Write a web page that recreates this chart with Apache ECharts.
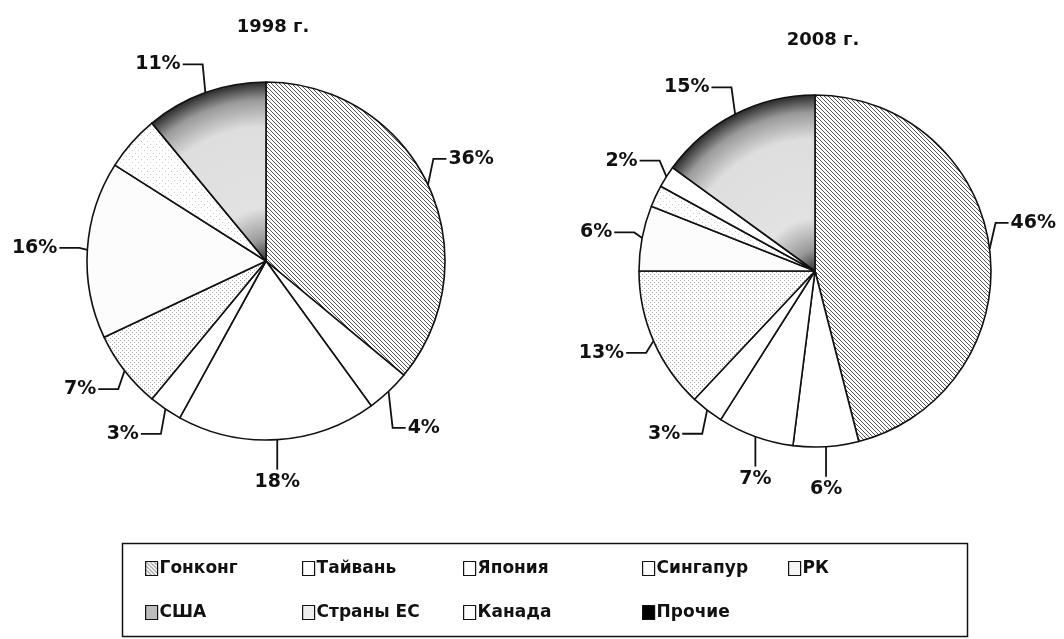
<!DOCTYPE html>
<html>
<head>
<meta charset="utf-8">
<script src="https://cdn.jsdelivr.net/npm/echarts@6/dist/echarts.min.js"></script>
<style>
html,body{margin:0;padding:0;background:#fff;}
#chart{width:1064px;height:639px;}
</style>
</head>
<body>
<div id="chart"></div>
<script>
// ---- data ----
var categories = ['Гонконг', 'Тайвань', 'Япония', 'Сингапур', 'РК', 'США', 'Страны ЕС', 'Канада', 'Прочие'];
var values1998 = [36, 4, 18, 3, 7, 16, 5, 0, 11];
var values2008 = [46, 6, 7, 3, 13, 6, 2, 2, 15];
var labeled1998 = [true, true, true, true, true, true, false, false, true];
var labeled2008 = [true, true, true, true, true, true, false, true, true];
var titles = ['1998 г.', '2008 г.'];

// ---- layout (not data) ----
var pieCenters = [[266, 261], [815, 271]];
var pieRadii = [179, 176];

// ---- patterns ----
function hatch() {
  var c = document.createElement('canvas'); c.width = 4; c.height = 4;
  var g = c.getContext('2d');
  g.fillStyle = '#fff'; g.fillRect(0, 0, 4, 4);
  g.strokeStyle = '#444'; g.lineWidth = 0.9;
  g.beginPath(); g.moveTo(-1, -1); g.lineTo(5, 5); g.stroke();
  g.beginPath(); g.moveTo(-1, 3); g.lineTo(1, 5); g.stroke();
  g.beginPath(); g.moveTo(3, -1); g.lineTo(5, 1); g.stroke();
  return { image: c, repeat: 'repeat' };
}
function dots(step, color) {
  var c = document.createElement('canvas'); c.width = step; c.height = step;
  var g = c.getContext('2d');
  g.fillStyle = '#fff'; g.fillRect(0, 0, step, step);
  g.fillStyle = color;
  g.fillRect(0, 0, 1, 1);
  g.fillRect(Math.floor(step / 2), Math.floor(step / 2), 1, 1);
  return { image: c, repeat: 'repeat' };
}
function othersFill(k) {
  return {
    type: 'radial', x: pieCenters[k][0], y: pieCenters[k][1], r: pieRadii[k], global: true,
    colorStops: [
      { offset: 0, color: '#333' },
      { offset: 0.12, color: '#999' },
      { offset: 0.3, color: '#e2e2e2' },
      { offset: 0.75, color: '#dedede' },
      { offset: 0.9, color: '#9a9a9a' },
      { offset: 1, color: '#2a2a2a' }
    ]
  };
}
var hatchFill = hatch(), rkFill = dots(4, '#aaa'), euFill = dots(6, '#ccc');
function fillsFor(k) {
  return [hatchFill, '#ffffff', '#ffffff', '#ffffff', rkFill, '#fcfcfc', euFill, '#ffffff', othersFill(k)];
}
var legendIconColors = [null, '#fff', '#fff', '#fff', '#f4f4f4', '#bdbdbd', '#eee', '#fff', '#000'];

function buildData(vals, labeled, k) {
  var fills = fillsFor(k);
  return categories.map(function (n, i) {
    return {
      name: n, value: vals[i],
      itemStyle: { color: fills[i] },
      label: { show: labeled[i] && vals[i] > 0 },
      labelLine: { show: labeled[i] && vals[i] > 0, lineStyle: { color: '#111', width: 1.8 } }
    };
  });
}

var font = 'DejaVu Sans, Liberation Sans, Arial, sans-serif';

function layoutLabel(p) {
  var pts = p.labelLinePoints;
  if (!pts) return {};
  var c = pieCenters[p.seriesIndex];
  var e = pts[0];
  var dx = e[0] - c[0], dy = e[1] - c[1];
  var r = Math.sqrt(dx * dx + dy * dy);
  var sx = dx / r, sy = dy / r;
  if (sy > 0.9) {
    var q = [e[0], e[1] + 30];
    return { x: q[0], y: q[1] + 3, align: 'center', verticalAlign: 'top', labelLinePoints: [e, q, q] };
  }
  var p1, h;
  if (sx >= 0) {
    var v = Math.max(26, Math.abs(sy) * 50) * (sy >= 0 ? 1 : -1);
    p1 = [e[0] + sx * 6, e[1] + v];
    h = 13;
  } else {
    p1 = [e[0] + sx * 8, e[1] + sy * 30];
    h = 20;
  }
  var dir = sx >= 0 ? 1 : -1;
  var p2 = [p1[0] + dir * h, p1[1]];
  return {
    x: p2[0] + dir * 2, y: p2[1], align: dir > 0 ? 'left' : 'right', verticalAlign: 'middle',
    labelLinePoints: [e, p1, p2]
  };
}

var pieCommon = {
  type: 'pie',
  startAngle: 90,
  clockwise: true,
  avoidLabelOverlap: false,
  itemStyle: { borderColor: '#111', borderWidth: 1.6 },
  emphasis: { disabled: true },
  label: {
    position: 'outside',
    formatter: '{c}%', color: '#111', fontFamily: font, fontWeight: 'bold', fontSize: 19,
    overflow: 'none'
  },
  labelLine: { length: 14, length2: 14, lineStyle: { color: '#111', width: 1.8 } },
  labelLayout: layoutLabel
};

// legend columns
var legendCols = [[0, 5], [1, 6], [2, 7], [3, 8], [4]];
var legendX = [140, 297, 458, 637, 783];
var legends = legendCols.map(function (col, k) {
  return {
    orient: 'vertical', left: legendX[k], top: 555,
    itemWidth: 12, itemHeight: 14, itemGap: 27,
    selectedMode: false,
    icon: 'rect',
    textStyle: { fontFamily: font, fontWeight: 'bold', fontSize: 17, color: '#111', padding: [0, 0, 0, -3] },
    itemStyle: { borderColor: '#111', borderWidth: 1.2 },
    data: col.map(function (i) {
      var d = { name: categories[i] };
      if (legendIconColors[i]) d.itemStyle = { color: legendIconColors[i] };
      return d;
    })
  };
});

var chart = echarts.init(document.getElementById('chart'), null, { renderer: 'canvas' });
chart.setOption({
  backgroundColor: '#fff',
  animation: false,
  title: [
    { text: titles[0], left: 268, top: 13, textAlign: 'center',
      textStyle: { fontFamily: font, fontWeight: 'bold', fontSize: 18, color: '#111' } },
    { text: titles[1], left: 818, top: 26, textAlign: 'center',
      textStyle: { fontFamily: font, fontWeight: 'bold', fontSize: 18, color: '#111' } }
  ],
  legend: legends,
  graphic: [{
    type: 'rect', shape: { x: 122.5, y: 543.5, width: 845, height: 93 },
    style: { fill: 'none', stroke: '#111', lineWidth: 1.5 }, silent: true
  }],
  series: [
    Object.assign({}, pieCommon, { name: titles[0], center: pieCenters[0], radius: pieRadii[0], data: buildData(values1998, labeled1998, 0) }),
    Object.assign({}, pieCommon, { name: titles[1], center: pieCenters[1], radius: pieRadii[1], data: buildData(values2008, labeled2008, 1) })
  ]
});
</script>
</body>
</html>
